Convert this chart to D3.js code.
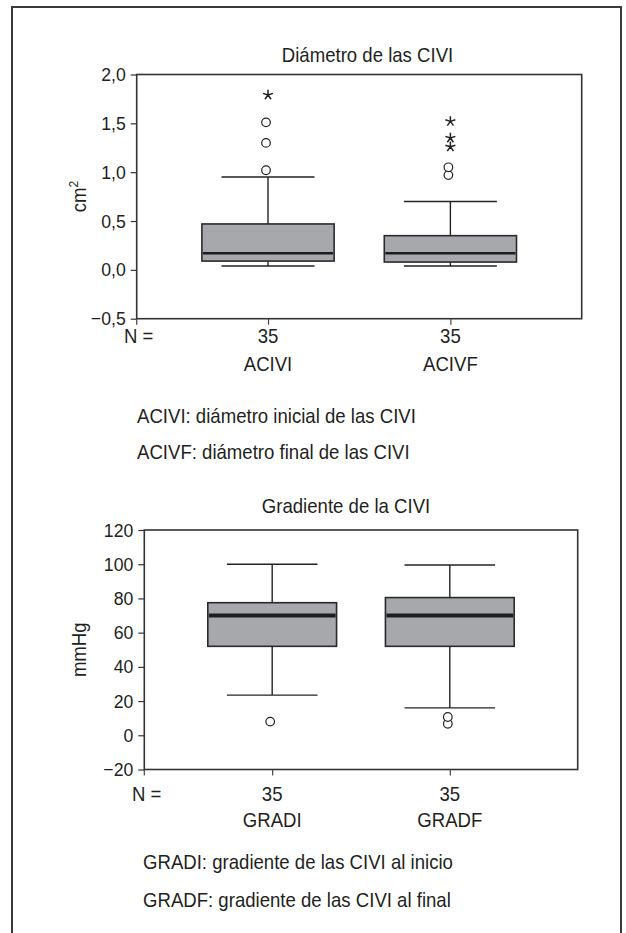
<!DOCTYPE html>
<html>
<head>
<meta charset="utf-8">
<script src="https://cdn.jsdelivr.net/npm/d3@7"></script>
<style>
  html, body { margin: 0; padding: 0; background: #fff; }
  svg { display: block; }
  text { font-family: 'Liberation Sans', Arial, sans-serif; fill: #231f20; }
</style>
</head>
<body>
<svg id="chart" width="626" height="933"></svg>
<script>
// ---------- DATA ----------
// Chart 1: Diámetro de las CIVI (cm²)
const topCategories = ["ACIVI", "ACIVF"];
const topN = [35, 35];
const topWhiskerLow = [0.04, 0.04];
const topQ1 = [0.09, 0.08];
const topMedian = [0.17, 0.17];
const topQ3 = [0.47, 0.35];
const topWhiskerHigh = [0.95, 0.70];
const topOutliers = [[1.02, 1.30, 1.51], [0.97, 1.05]];
const topExtremes = [[1.79], [1.26, 1.35, 1.52]];
const topTicks = [-0.5, 0, 0.5, 1.0, 1.5, 2.0];

// Chart 2: Gradiente de la CIVI (mmHg)
const botCategories = ["GRADI", "GRADF"];
const botN = [35, 35];
const botWhiskerLow = [23.5, 16];
const botQ1 = [52, 52];
const botMedian = [70, 70];
const botQ3 = [77.5, 80.5];
const botWhiskerHigh = [100, 99.5];
const botOutliers = [[8], [6.7, 10.7]];
const botExtremes = [[], []];
const botTicks = [-20, 0, 20, 40, 60, 80, 100, 120];

const topLegend = ["ACIVI: diámetro inicial de las CIVI", "ACIVF: diámetro final de las CIVI"];
const botLegend = ["GRADI: gradiente de las CIVI al inicio", "GRADF: gradiente de las CIVI al final"];

// ---------- DRAWING ----------
const SX = 0.93;  // horizontal condensation of the text
const INK = "#231f20";
const svg = d3.select("#chart");

function label(g, x, y, txt, size, anchor) {
  return g.append("text")
    .attr("transform", `translate(${x},${y}) scale(${SX},1)`)
    .attr("text-anchor", anchor || "start")
    .style("font-size", size + "px")
    .text(txt);
}

// outer frame (open at the bottom)
svg.append("path")
  .attr("d", d3.line()([[12, 933], [12, 7], [621, 7], [621, 933]]))
  .attr("fill", "none").attr("stroke", "#3a3a3a").attr("stroke-width", 2);

// five-point asterisk symbol for extreme values
const star5 = {
  draw(ctx, size) {
    const r = Math.sqrt(size) / 2;
    for (let i = 0; i < 5; i++) {
      const a = -Math.PI / 2 + i * 2 * Math.PI / 5;
      ctx.moveTo(0, 0);
      ctx.lineTo(r * Math.cos(a), r * Math.sin(a));
    }
  }
};

function boxChart(cfg) {
  const g = svg.append("g");
  const x = d3.scalePoint().domain(cfg.categories).range([cfg.left, cfg.right]).padding(0.72);
  const y = d3.scaleLinear().domain(cfg.domain).range([cfg.bottom, cfg.top]);
  const step = x.step();
  const boxW = step * 0.725;
  const capW = step * 0.51;

  // title
  label(g, cfg.titleX, cfg.titleY, cfg.title, 20, "middle");

  // plot frame
  g.append("rect")
    .attr("x", cfg.left).attr("y", cfg.top)
    .attr("width", cfg.right - cfg.left).attr("height", cfg.bottom - cfg.top)
    .attr("fill", "none").attr("stroke", "#333").attr("stroke-width", 1.6);

  // y axis
  const ya = g.append("g").attr("transform", `translate(${cfg.left},0)`)
    .call(d3.axisLeft(y).tickValues(cfg.ticks).tickSize(6).tickPadding(5)
      .tickFormat(cfg.fmt));
  ya.select(".domain").remove();
  ya.selectAll(".tick line").attr("stroke", "#333").attr("stroke-width", 1.2);
  ya.selectAll(".tick text")
    .attr("x", -11 / SX)
    .attr("transform", `scale(${SX},1)`)
    .style("font-size", "19px").style("font-family", "'Liberation Sans', Arial, sans-serif")
    .attr("fill", INK);

  // x axis (ticks only)
  const xa = g.append("g").attr("transform", `translate(0,${cfg.bottom})`)
    .call(d3.axisBottom(x).tickSize(6).tickSizeOuter(0).tickFormat(""));
  xa.select(".domain").remove();
  xa.selectAll(".tick line").attr("stroke", "#444").attr("stroke-width", 1.2);
  g.append("line")
    .attr("x1", x.range()[0]).attr("x2", x.range()[0])
    .attr("y1", cfg.bottom).attr("y2", cfg.bottom + 6)
    .attr("stroke", "#444").attr("stroke-width", 1.2);

  // N = and counts, category names
  label(g, cfg.nX, cfg.nY, "N =", 20, "start");
  cfg.categories.forEach((c, i) => {
    label(g, x(c), cfg.nY, String(cfg.n[i]), 20, "middle");
    label(g, x(c), cfg.catY, c, 20, "middle");
  });

  // y-axis label
  const yl = g.append("text")
    .attr("transform", `translate(${cfg.yLabelX},${(cfg.top + cfg.bottom) / 2}) rotate(-90) scale(${SX},1)`)
    .attr("text-anchor", "middle")
    .style("font-size", "20px");
  yl.append("tspan").text(cfg.yLabel);
  if (cfg.yLabelSup) {
    yl.append("tspan").attr("dy", -8).style("font-size", "13px").text(cfg.yLabelSup);
  }

  // boxes
  cfg.categories.forEach((c, i) => {
    const cx = x(c);
    const bg = g.append("g");
    // whiskers
    bg.append("line").attr("x1", cx).attr("x2", cx)
      .attr("y1", y(cfg.q3[i])).attr("y2", y(cfg.hi[i]))
      .attr("stroke", "#222").attr("stroke-width", 1.4);
    bg.append("line").attr("x1", cx).attr("x2", cx)
      .attr("y1", y(cfg.q1[i])).attr("y2", y(cfg.lo[i]))
      .attr("stroke", "#222").attr("stroke-width", 1.4);
    [cfg.hi[i], cfg.lo[i]].forEach(v => {
      bg.append("line").attr("x1", cx - capW / 2).attr("x2", cx + capW / 2)
        .attr("y1", y(v)).attr("y2", y(v))
        .attr("stroke", "#222").attr("stroke-width", 1.4);
    });
    // box
    bg.append("rect")
      .attr("x", cx - boxW / 2).attr("width", boxW)
      .attr("y", y(cfg.q3[i])).attr("height", y(cfg.q1[i]) - y(cfg.q3[i]))
      .attr("fill", "#a7a8ac").attr("stroke", "#2a2a2a").attr("stroke-width", 1.6);
    // median
    bg.append("line")
      .attr("x1", cx - boxW / 2 + 1).attr("x2", cx + boxW / 2 - 1)
      .attr("y1", y(cfg.med[i])).attr("y2", y(cfg.med[i]))
      .attr("stroke", "#1e1e1e").attr("stroke-width", cfg.medW);
    // outliers
    cfg.out[i].forEach(v => {
      bg.append("circle").attr("cx", cx - 2).attr("cy", y(v)).attr("r", 4.3)
        .attr("fill", "#fff").attr("stroke", "#222").attr("stroke-width", 1.2);
    });
    // extremes
    cfg.ext[i].forEach(v => {
      bg.append("path")
        .attr("transform", `translate(${cx},${y(v)})`)
        .attr("d", d3.symbol().type(star5).size(110)())
        .attr("fill", "none").attr("stroke", "#222").attr("stroke-width", 1.5);
    });
  });

  // legend lines
  cfg.legend.forEach((t, i) => {
    label(g, cfg.legX, cfg.legY[i], t, 20, "start");
  });
}

const commaFmt = d => d3.format(".1f")(d).replace(".", ",").replace("-", "\u2212");
const intFmt = d => String(d).replace("-", "\u2212");

boxChart({
  categories: topCategories, n: topN,
  lo: topWhiskerLow, q1: topQ1, med: topMedian, q3: topQ3, hi: topWhiskerHigh,
  out: topOutliers, ext: topExtremes, ticks: topTicks, fmt: commaFmt,
  domain: [-0.5, 2.0],
  left: 136.7, right: 581.7, top: 74.5, bottom: 318.7,
  title: "Diámetro de las CIVI", titleX: 367.5, titleY: 61.5,
  yLabel: "cm", yLabelSup: "2", yLabelX: 86,
  nX: 124, nY: 343, catY: 370.5, medW: 2.6,
  legend: topLegend, legX: 137, legY: [423, 459]
});

boxChart({
  categories: botCategories, n: botN,
  lo: botWhiskerLow, q1: botQ1, med: botMedian, q3: botQ3, hi: botWhiskerHigh,
  out: botOutliers, ext: botExtremes, ticks: botTicks, fmt: intFmt,
  domain: [-20, 120],
  left: 144.3, right: 577.7, top: 530, bottom: 769.5,
  title: "Gradiente de la CIVI", titleX: 346, titleY: 512.5,
  yLabel: "mmHg", yLabelSup: null, yLabelX: 86,
  nX: 132, nY: 801, catY: 827, medW: 4,
  legend: botLegend, legX: 143, legY: [869, 906.5]
});
</script>
</body>
</html>
